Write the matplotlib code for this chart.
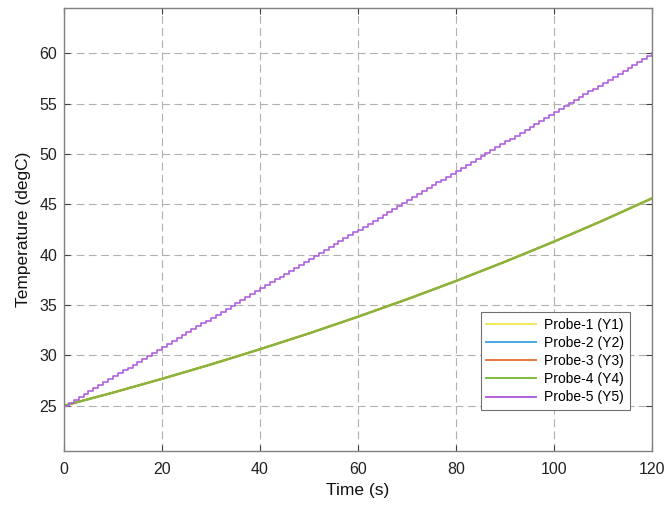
import numpy as np
import matplotlib
matplotlib.use("Agg")
import matplotlib.pyplot as plt

plt.rcParams['font.family'] = ['Liberation Sans', 'DejaVu Sans']

# ==========================================
# data
# ==========================================
# Probe-1..4 share one curve (drawn on top of each other), sampled every 10 s
time_coarse = [0, 10, 20, 30, 40, 50, 60, 70, 80, 90, 100, 110, 120]
temp_probe_1to4 = [25.00, 26.30, 27.67, 29.10, 30.61, 32.18, 33.84,
                   35.57, 37.39, 39.30, 41.30, 43.40, 45.60]

# Probe-5 is a staircase signal, one value per second (0..120 s)
time_fine = list(range(0, 121))
temp_probe_5 = [
    25.00, 25.29, 25.58, 25.88, 26.17, 26.46, 26.75, 27.04, 27.33, 27.63,
    27.92, 28.21, 28.50, 28.79, 29.08, 29.38, 29.67, 29.96, 30.25, 30.54,
    30.83, 31.13, 31.42, 31.71, 32.00, 32.29, 32.58, 32.88, 33.17, 33.46,
    33.75, 34.04, 34.33, 34.63, 34.92, 35.21, 35.50, 35.79, 36.08, 36.38,
    36.67, 36.96, 37.25, 37.54, 37.83, 38.13, 38.42, 38.71, 39.00, 39.29,
    39.58, 39.88, 40.17, 40.46, 40.75, 41.04, 41.33, 41.63, 41.92, 42.21,
    42.50, 42.79, 43.08, 43.38, 43.67, 43.96, 44.25, 44.54, 44.83, 45.13,
    45.42, 45.71, 46.00, 46.29, 46.58, 46.88, 47.17, 47.46, 47.75, 48.04,
    48.33, 48.63, 48.92, 49.21, 49.50, 49.79, 50.08, 50.38, 50.67, 50.96,
    51.25, 51.54, 51.83, 52.13, 52.42, 52.71, 53.00, 53.29, 53.58, 53.88,
    54.17, 54.46, 54.75, 55.04, 55.33, 55.63, 55.92, 56.21, 56.50, 56.79,
    57.08, 57.38, 57.67, 57.96, 58.25, 58.54, 58.83, 59.13, 59.42, 59.71,
    60.00,
]

labels = ['Probe-1 (Y1)', 'Probe-2 (Y2)', 'Probe-3 (Y3)', 'Probe-4 (Y4)', 'Probe-5 (Y5)']
colors = ['#F0E85A', '#45AAE0', '#E8773F', '#7DBD3A', '#B062DE']
widths = [2.0, 1.4, 1.4, 1.3]

x_ticks = [0, 20, 40, 60, 80, 100, 120]
y_ticks = [25, 30, 35, 40, 45, 50, 55, 60]

# ==========================================
# plot
# ==========================================
fig = plt.figure(figsize=(6.65, 5.08), dpi=100)
ax = fig.add_axes([0.0962, 0.1122, 0.8843, 0.8720])

for i in range(4):
    ax.plot(time_coarse, temp_probe_1to4, color=colors[i], lw=widths[i], label=labels[i])
ax.plot(time_fine, temp_probe_5, color=colors[4], lw=1.2, drawstyle='steps-post',
        solid_joinstyle='round', label=labels[4])

ax.set_xlim(0, 120)
ax.set_ylim(20.5, 64.5)
ax.set_xticks(x_ticks)
ax.set_yticks(y_ticks)
ax.tick_params(direction='in', length=4, width=0.8, color='#404040',
               labelsize=11.5, labelcolor='#222222', top=True, right=True)
ax.tick_params(axis='x', pad=8)
ax.tick_params(axis='y', pad=5)
for s in ax.spines.values():
    s.set_color('#808080')
    s.set_linewidth(1.0)

ax.grid(True, color='#B0B0B0', linestyle=(0, (7, 4)), linewidth=0.8)
ax.set_axisbelow(True)

ax.set_xlabel('Time (s)', fontsize=12.5, color='#111111', labelpad=4)
ax.set_ylabel('Temperature (degC)', fontsize=12.5, color='#111111', labelpad=6)

leg = ax.legend(loc='lower right', bbox_to_anchor=(0.9626, 0.0926), borderaxespad=0,
                fontsize=10, handlelength=3.6, labelspacing=0.3, handletextpad=0.6,
                borderpad=0.4, fancybox=False, framealpha=1, edgecolor='#707070')
leg.get_frame().set_linewidth(0.8)
# legend lines all the same weight
for h in leg.get_lines():
    h.set_linewidth(1.4)

fig.savefig('out.png', dpi=100)
